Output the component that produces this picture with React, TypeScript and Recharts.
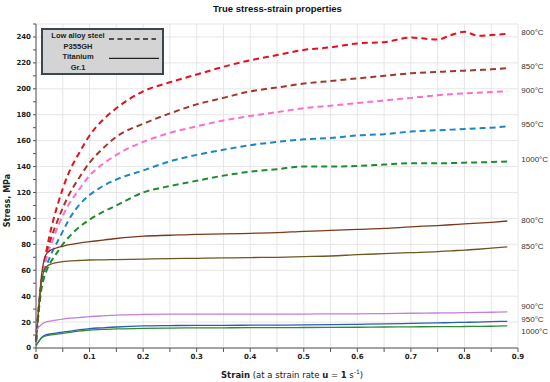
import React from 'react';
import { LineChart, Line, XAxis, YAxis, CartesianGrid, LabelList } from 'recharts';

const strain = [0, 0.005, 0.01, 0.015, 0.02, 0.03, 0.04, 0.05, 0.06, 0.08, 0.1, 0.125, 0.15, 0.2, 0.25, 0.3, 0.35, 0.4, 0.45, 0.5, 0.55, 0.6, 0.65, 0.7, 0.75, 0.775, 0.8, 0.825, 0.85, 0.88];

// low alloy steel P355GH (dashed)
const steel800 = [5, 30, 50, 64, 76, 95, 110, 123, 134, 150, 164, 176, 185, 198, 205, 211, 217, 222, 226, 230, 232, 235, 236, 239.5, 238, 241.5, 244, 241, 241.5, 242.5];
const steel850 = [5, 30, 50, 63, 73, 87, 98, 108, 117, 131, 143, 154, 163, 173, 181, 188, 193, 198, 201, 204, 206, 208, 210, 212, 213, 213.5, 214, 214.5, 215, 216];
const steel900 = [5, 30, 50, 62, 70, 82, 93, 102, 110, 122, 133, 142, 149, 159, 166, 171, 175.5, 179, 182, 185, 187, 189, 191, 193, 195, 195.8, 196.5, 197, 197.5, 198];
const steel950 = [5, 30, 48, 58, 64, 74, 82, 90, 98, 110, 118, 125, 130, 137, 144, 149, 153, 156.5, 159, 161, 162, 164, 165, 167, 168, 168.5, 169, 169.5, 170, 171];
const steel1000 = [5, 28, 45, 54, 60, 68, 74, 80, 85, 93, 99, 105, 110, 120, 125, 129, 133, 136, 138, 140, 140, 140.5, 141.5, 142.5, 142.5, 142.7, 143, 143.2, 143.5, 144];

// titanium Gr.1 (solid)
const ti800 = [5, 30, 55, 68, 73, 76, 77.5, 78.5, 79.5, 81, 82, 83.3, 84.5, 86.3, 87, 87.7, 88, 88.5, 89, 90, 90.7, 91.5, 92.3, 93.5, 94.5, 95.1, 95.7, 96.3, 97, 98];
const ti850 = [5, 30, 50, 60, 63, 65, 66, 66.6, 67, 67.5, 67.9, 68, 68.2, 68.6, 69, 69.2, 69.5, 69.8, 70, 70.5, 71, 72, 72.8, 73.6, 74.4, 75, 75.5, 76.2, 77, 78];
const ti900 = [13, 16, 18, 19.5, 20.3, 21, 21.7, 22.3, 22.8, 23.5, 24.2, 24.8, 25.3, 26, 26.2, 26.2, 26.2, 26.2, 26.2, 26.2, 26.3, 26.4, 26.6, 26.8, 27, 27.1, 27.3, 27.5, 27.6, 27.8];
const ti950 = [2, 5, 8, 9.5, 10.3, 11, 11.7, 12.3, 12.8, 14, 15, 15.6, 16.2, 17, 17.3, 17.5, 17.5, 17.6, 17.7, 17.8, 18, 18.3, 18.6, 19, 19.4, 19.6, 19.8, 20, 20.3, 20.6];
const ti1000 = [2, 5, 7.5, 9, 9.5, 10.2, 10.8, 11.3, 11.8, 13, 13.9, 14.3, 14.7, 15.2, 15.4, 15.5, 15.6, 15.7, 15.7, 15.8, 15.9, 16, 16.2, 16.3, 16.5, 16.5, 16.6, 16.7, 16.8, 17];

const xTicks = [0, 0.05, 0.1, 0.15, 0.2, 0.25, 0.3, 0.35, 0.4, 0.45, 0.5, 0.55, 0.6, 0.65, 0.7, 0.75, 0.8, 0.85, 0.9];
const yTicks = [0, 10, 20, 30, 40, 50, 60, 70, 80, 90, 100, 110, 120, 130, 140, 150, 160, 170, 180, 190, 200, 210, 220, 230, 240, 250];
const yGrid = [0, 20, 40, 60, 80, 100, 120, 140, 160, 180, 200, 220, 240, 250];

const data = strain.map((s, i) => ({
  strain: s,
  steel800: steel800[i],
  steel850: steel850[i],
  steel900: steel900[i],
  steel950: steel950[i],
  steel1000: steel1000[i],
  ti800: ti800[i],
  ti850: ti850[i],
  ti900: ti900[i],
  ti950: ti950[i],
  ti1000: ti1000[i],
}));

const series = [
  { key: 'steel800', label: '800°C', color: '#e5101c', dashed: true, dy: -2 },
  { key: 'steel850', label: '850°C', color: '#a2372a', dashed: true, dy: -2 },
  { key: 'steel900', label: '900°C', color: '#ff6ccc', dashed: true, dy: -1 },
  { key: 'steel950', label: '950°C', color: '#1b86c4', dashed: true, dy: -2 },
  { key: 'steel1000', label: '1000°C', color: '#1f8b2c', dashed: true, dy: -2 },
  { key: 'ti800', label: '800°C', color: '#7a3a1c', dashed: false, dy: -1 },
  { key: 'ti850', label: '850°C', color: '#6b5720', dashed: false, dy: -1 },
  { key: 'ti900', label: '900°C', color: '#c47fd6', dashed: false, dy: -6 },
  { key: 'ti950', label: '950°C', color: '#2b5db2', dashed: false, dy: -2 },
  { key: 'ti1000', label: '1000°C', color: '#2f8a3a', dashed: false, dy: 5 },
];

const last = strain.length - 1;

const endLabel = (text: string, dy: number) => (props: any) => {
  if (props.index !== last) return null;
  return (
    <text x={props.x + 14} y={props.y + dy} dy={3} fontSize={8} fontFamily="Liberation Sans, Arial" fill="#333">
      {text}
    </text>
  );
};

const fmtX = (v: number) => {
  const r = Math.round(v * 100);
  if (r % 10 !== 0) return '';
  return r === 0 ? '0' : v.toFixed(1);
};

const fmtY = (v: number) => (v % 20 === 0 && v <= 240 ? String(v) : '');

const tickStyle = { fontSize: 7, fontWeight: 700, fontFamily: 'DejaVu Sans', fill: '#222' };

export default function App() {
  return (
    <div style={{ position: 'absolute', left: 0, top: 0, width: 550, height: 382, background: '#fff', fontFamily: 'Liberation Sans, Arial' }}>
      <div style={{ position: 'absolute', left: 0, width: 555, top: 3, textAlign: 'center', fontSize: 9.5, fontWeight: 700, color: '#111' }}>
        True stress-strain properties
      </div>
      <LineChart width={550} height={382} data={data} margin={{ top: 24, right: 32, left: 0, bottom: 0 }}>
        <CartesianGrid stroke="#e6e6e6" horizontalValues={yGrid} />
        <XAxis
          type="number"
          dataKey="strain"
          domain={[0, 0.9]}
          ticks={xTicks}
          tickFormatter={fmtX}
          interval={0}
          height={34}
          tickSize={4}
          stroke="#555"
          tick={tickStyle}
        />
        <YAxis
          type="number"
          domain={[0, 250]}
          ticks={yTicks}
          tickFormatter={fmtY}
          interval={0}
          width={36}
          tickSize={3}
          stroke="#555"
          tick={tickStyle}
        />
        {series.map((s) => (
          <Line
            key={s.key}
            type="monotone"
            dataKey={s.key}
            stroke={s.color}
            strokeWidth={s.dashed ? 2 : 1.3}
            strokeDasharray={s.dashed ? '6 4' : undefined}
            dot={false}
            isAnimationActive={false}
          >
            <LabelList dataKey={s.key} content={endLabel(s.label, s.dy)} />
          </Line>
        ))}
      </LineChart>
      <div
        style={{
          position: 'absolute', left: 4, top: 170, width: 60, height: 60,
          display: 'flex', alignItems: 'center', justifyContent: 'center',
          pointerEvents: 'none',
        }}
      >
        <div style={{ transform: 'rotate(-90deg)', whiteSpace: 'nowrap', fontFamily: 'DejaVu Sans', fontWeight: 700, fontSize: 8, color: '#222', marginLeft: -52 }}>
          Stress, MPa
        </div>
      </div>
      <div style={{ position: 'absolute', left: 221, top: 368, whiteSpace: 'nowrap', fontFamily: 'DejaVu Sans', fontSize: 8.5, color: '#222' }}>
        <b>Strain</b> (at a strain rate <b>u</b> = <b>1</b> s<sup style={{ fontSize: 6 }}>-1</sup>)
      </div>
      <div
        style={{
          position: 'absolute', left: 41, top: 28, width: 119, height: 43,
          background: '#d4d4d4', border: '2px solid #3a4650',
          fontSize: 7.5, fontWeight: 700, color: '#222',
        }}
      >
        <div style={{ position: 'absolute', left: 0, top: 0, width: 70, textAlign: 'center', lineHeight: '11px' }}>
          Low alloy steel<br />P355GH
        </div>
        <div style={{ position: 'absolute', left: 0, top: 22, width: 70, textAlign: 'center', lineHeight: '10.5px' }}>
          Titanium<br />Gr.1
        </div>
        <svg style={{ position: 'absolute', left: 64, top: 6 }} width={54} height={30}>
          <line x1={2} y1={3} x2={49} y2={3} stroke="#222" strokeWidth={1.5} strokeDasharray="5 3.5" />
          <line x1={2} y1={22.3} x2={52} y2={22.3} stroke="#222" strokeWidth={1.3} />
        </svg>
      </div>
    </div>
  );
}
